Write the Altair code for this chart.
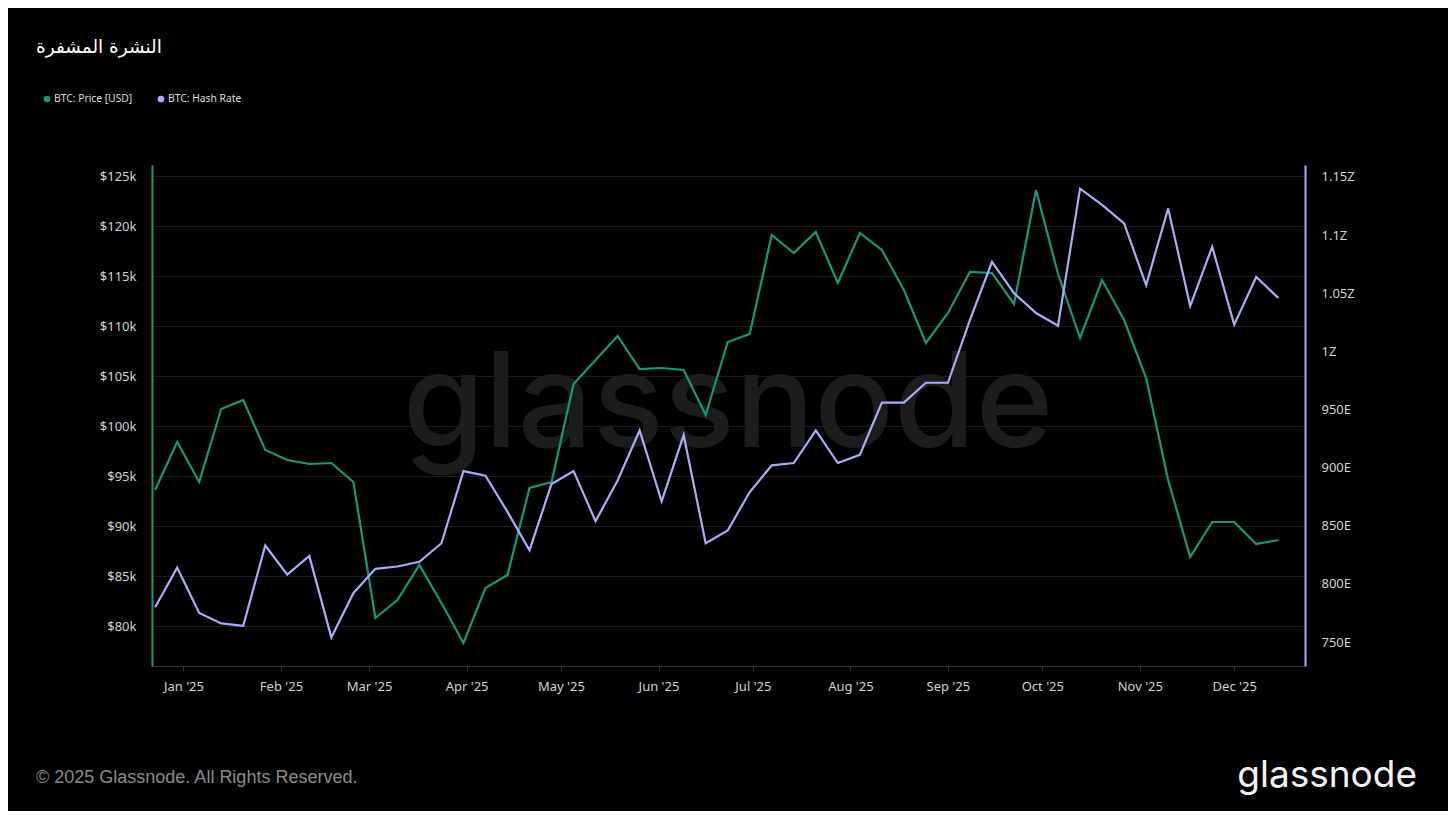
import altair as alt
import pandas as pd

TITLE = "النشرة المشفرة"
SERIES = ["BTC: Price [USD]", "BTC: Hash Rate"]
FOOTER = "© 2025 Glassnode. All Rights Reserved."
BRAND = "glassnode"

dates = [
    "2024-12-23", "2024-12-30", "2025-01-06", "2025-01-13", "2025-01-20", "2025-01-27",
    "2025-02-03", "2025-02-10", "2025-02-17", "2025-02-24", "2025-03-03", "2025-03-10",
    "2025-03-17", "2025-03-24", "2025-03-31", "2025-04-07", "2025-04-14", "2025-04-21",
    "2025-04-28", "2025-05-05", "2025-05-12", "2025-05-19", "2025-05-26", "2025-06-02",
    "2025-06-09", "2025-06-16", "2025-06-23", "2025-06-30", "2025-07-07", "2025-07-14",
    "2025-07-21", "2025-07-28", "2025-08-04", "2025-08-11", "2025-08-18", "2025-08-25",
    "2025-09-01", "2025-09-08", "2025-09-15", "2025-09-22", "2025-09-29", "2025-10-06",
    "2025-10-13", "2025-10-20", "2025-10-27", "2025-11-03", "2025-11-10", "2025-11-17",
    "2025-11-24", "2025-12-01", "2025-12-08", "2025-12-15",
]

# BTC price, thousands of USD
price_k = [
    93.6, 98.4, 94.4, 101.7, 102.6, 97.6, 96.6, 96.2, 96.3, 94.4, 80.8, 82.6,
    86.1, 82.3, 78.3, 83.8, 85.1, 93.8, 94.4, 104.2, 106.6, 109.0, 105.7, 105.8,
    105.6, 101.1, 108.4, 109.2, 119.1, 117.3, 119.4, 114.3, 119.3, 117.6, 113.6, 108.3,
    111.3, 115.4, 115.3, 112.2, 123.6, 115.2, 108.8, 114.6, 110.6, 104.8, 94.6, 86.9,
    90.4, 90.4, 88.2, 88.6,
]

# Hash rate, EH/s
hash_e = [
    780, 814, 775, 766, 764, 833, 808, 824, 754, 792, 813, 815,
    819, 835, 897, 893, 862, 829, 886, 897, 854, 889, 932, 871,
    928, 835, 846, 879, 902, 904, 932, 904, 911, 956, 956, 973,
    973, 1027, 1077, 1050, 1033, 1022, 1140, 1126, 1110, 1057, 1123, 1039,
    1090, 1023, 1064, 1046,
]

price_ticks = [80000, 85000, 90000, 95000, 100000, 105000, 110000, 115000, 120000, 125000]
hash_ticks = [750e18, 800e18, 850e18, 900e18, 950e18, 1000e18, 1050e18, 1100e18, 1150e18]

GREEN = "#17977b"
LAV = "#a9adf8"
LABEL = "#d2d2d2"
FONT = "Noto Sans"

df = pd.DataFrame({
    "date": dates,
    "price": [v * 1000 for v in price_k],
    "hash": [v * 1e18 for v in hash_e],
})

month_ticks = [alt.DateTime(year=2025, month=m, date=1) for m in range(1, 13)]

x_enc = alt.X(
    "date:T",
    scale=alt.Scale(domain=[alt.DateTime(year=2024, month=12, date=22),
                            alt.DateTime(year=2025, month=12, date=23, hours=12)]),
    axis=alt.Axis(
        values=month_ticks, format="%b '%y", title=None, grid=False,
        domainColor="#333333", tickColor="#333333", tickSize=5,
        labelColor=LABEL, labelFontSize=13, labelFont=FONT, labelPadding=9,
    ),
)

base = alt.Chart(df)

price_line = base.mark_line(color=GREEN, strokeWidth=2.2).encode(
    x=x_enc,
    y=alt.Y(
        "price:Q",
        scale=alt.Scale(domain=[76000, 126100], nice=False, zero=False),
        axis=alt.Axis(
            orient="left", values=price_ticks, format="$~s", title=None,
            ticks=False, domainColor=GREEN, domainWidth=2,
            grid=True, gridColor="#1c1c1c", gridWidth=1,
            labelColor=LABEL, labelFontSize=13, labelFont=FONT, labelPadding=16,
        ),
    ),
)

hash_line = base.mark_line(color=LAV, strokeWidth=2.2).encode(
    x=x_enc,
    y=alt.Y(
        "hash:Q",
        scale=alt.Scale(domain=[729.4e18, 1160.3e18], nice=False, zero=False),
        axis=alt.Axis(
            orient="right", values=hash_ticks, title=None,
            labelExpr="datum.value >= 1e21 ? format(datum.value / 1e21, '.3~g') + 'Z' : format(datum.value / 1e18, '.3~g') + 'E'",
            ticks=False, domainColor=LAV, domainWidth=2, grid=False,
            labelColor=LABEL, labelFontSize=13, labelFont=FONT, labelPadding=16,
        ),
    ),
)


def text_layer(txt, x, y, **kw):
    return alt.Chart(pd.DataFrame({"t": [txt]})).mark_text(**kw).encode(
        x=alt.value(x), y=alt.value(y), text="t:N"
    )


def dot_layer(color, x, y):
    return alt.Chart(pd.DataFrame({"t": [0]})).mark_circle(
        color=color, opacity=1, size=45
    ).encode(x=alt.value(x), y=alt.value(y))


watermark = text_layer(BRAND, 576, 282, align="center", baseline="alphabetic",
                       font="Inter", fontWeight=500, fontSize=132, color="#1c1c1c")
title = text_layer(TITLE, -116, -112, align="left", baseline="alphabetic",
                   font="DejaVu Sans", fontSize=18.5, color="#ffffff")
leg1_dot = dot_layer(GREEN, -105, -66)
leg1_txt = text_layer(SERIES[0], -98, -66, align="left", baseline="middle",
                      font=FONT, fontSize=10.3, color="#dddddd")
leg2_dot = dot_layer(LAV, 9, -66)
leg2_txt = text_layer(SERIES[1], 16, -66, align="left", baseline="middle",
                      font=FONT, fontSize=10.3, color="#dddddd")
footer = text_layer(FOOTER, -116, 618, align="left", baseline="alphabetic",
                    font="Liberation Sans", fontSize=18, color="#8a8a8a")
brand = text_layer(BRAND, 1265, 622, align="right", baseline="alphabetic",
                   font="Inter", fontWeight=400, fontSize=37, color="#f2f2f2")

chart = alt.layer(
    watermark, price_line, hash_line, title, leg1_dot, leg1_txt, leg2_dot, leg2_txt,
    footer, brand,
).resolve_scale(y="independent").properties(
    width=1153, height=501,
    autosize=alt.AutoSizeParams(type="none"),
    padding={"left": 144, "top": 157, "right": 143, "bottom": 145},
    background="#000000",
).configure_view(stroke=None)

chart.save("out.html", embed_options={"renderer": "svg", "actions": False})
